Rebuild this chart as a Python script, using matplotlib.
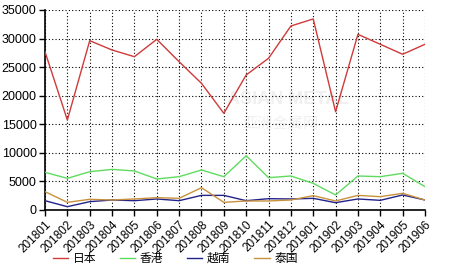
import matplotlib
matplotlib.use("Agg")
import matplotlib.pyplot as plt

plt.rcParams['font.family'] = ['Liberation Sans', 'Noto Sans CJK SC', 'DejaVu Sans']

# months on the x axis
months = ['201801', '201802', '201803', '201804', '201805', '201806',
          '201807', '201808', '201809', '201810', '201811', '201812',
          '201901', '201902', '201903', '201904', '201905', '201906']

# series
japan = [27700, 15750, 29630, 28000, 26830, 29870, 25950, 22170, 16920,
         23630, 26550, 32200, 33430, 17200, 30740, 29000, 27250, 29000]
hongkong = [6590, 5540, 6700, 7110, 6830, 5430, 5830, 7000, 5830,
            9500, 5660, 5950, 4660, 2630, 5950, 5830, 6420, 4080]
vietnam = [1630, 580, 1460, 1750, 1630, 1930, 1630, 2560, 2560,
           1630, 1980, 1930, 2040, 1280, 1930, 1690, 2630, 1750]
thailand = [3210, 1340, 1870, 1750, 1930, 2160, 2040, 3910, 1340,
            1580, 1580, 1750, 2510, 1580, 2560, 2330, 2920, 1750]

names = ['日本', '香港', '越南', '泰国']
colors = ['#d03a3a', '#5fdc5f', '#22228a', '#c8923c']

fig = plt.figure(figsize=(4.66, 2.72), dpi=100)
ax = fig.add_axes([45 / 466, 62 / 272, 380 / 466, 200 / 272])

x = list(range(len(months)))
for ys, name, c in zip([japan, hongkong, vietnam, thailand], names, colors):
    ax.plot(x, ys, color=c, linewidth=1.0, label=name, zorder=3)

# faint watermark
ax.text(0.64, 0.55, 'ASIAN METAL', transform=ax.transAxes, fontsize=13,
        fontweight='bold', color='#f0f0f0', ha='center', va='center', zorder=0)
ax.text(0.62, 0.43, '亚洲金属网', transform=ax.transAxes, fontsize=11,
        color='#f0f0f0', ha='center', va='center', zorder=0)

ax.set_xlim(0, 17)
ax.set_ylim(0, 35000)
ax.set_xticks(x)
ax.set_xticklabels(months, rotation=45, ha='right', rotation_mode='anchor', fontsize=8.5)
ax.set_yticks(range(0, 35001, 5000))
ax.tick_params(axis='y', labelsize=9, length=4, width=1, pad=2)
ax.tick_params(axis='x', length=4, width=1, pad=2)
ax.grid(True, color='black', linestyle=(0, (1, 2)), linewidth=0.8)
ax.set_axisbelow(True)
for side in ['top', 'right']:
    ax.spines[side].set_visible(False)
ax.spines['left'].set_linewidth(1.2)
ax.spines['bottom'].set_linewidth(1.2)

fig.legend(loc='center left', bbox_to_anchor=(48 / 466, 13 / 272), ncol=4, frameon=False,
           fontsize=8.5, handlelength=1.3, handletextpad=0.4, columnspacing=2.0,
           borderaxespad=0, borderpad=0.4)

fig.savefig('out.png', dpi=100)
